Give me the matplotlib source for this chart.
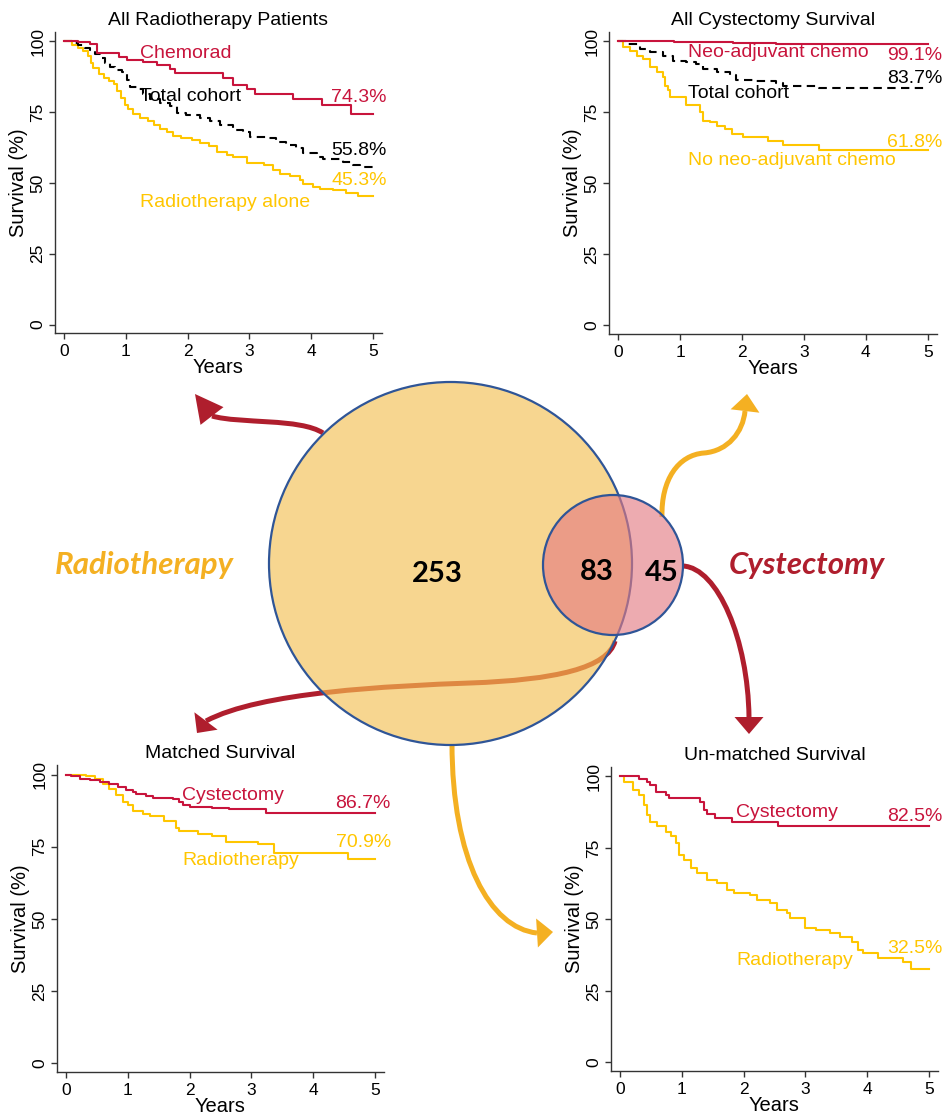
import matplotlib
matplotlib.use("Agg")
import matplotlib.pyplot as plt
from matplotlib.path import Path
from matplotlib.patches import PathPatch, Circle, Polygon
import numpy as np

plt.rcParams["font.family"] = ["Liberation Sans", "DejaVu Sans"]

# ---------------------------------------------------------------- data
YEARS = [0, 1, 2, 3, 4, 5]
SURV_TICKS = [0, 25, 50, 75, 100]

# All radiotherapy patients
rt_chemo_t = [0, 0.23, 0.41, 0.53, 0.88, 1.01, 1.28, 1.50, 1.72, 1.80, 2.58, 2.74,
              2.96, 3.09, 3.71, 4.17, 4.65, 5.0]
rt_chemo_s = [100, 99.8, 99.2, 95.9, 94.5, 93.5, 92.7, 91.5, 90.3, 88.8, 87.2, 84.5,
              83.3, 81.5, 79.6, 77.5, 74.3, 74.3]
rt_total_t = [0, 0.12, 0.23, 0.34, 0.42, 0.50, 0.58, 0.66, 0.74, 0.83, 0.93, 1.01,
              1.07, 1.18, 1.28, 1.39, 1.55, 1.72, 1.82, 1.98, 2.20, 2.36, 2.52, 2.74,
              2.90, 3.01, 3.28, 3.44, 3.60, 3.76, 3.87, 4.09, 4.20, 4.52, 4.68, 4.79, 5.0]
rt_total_s = [100, 99.3, 98.6, 97.8, 96.8, 95.5, 94.0, 92.5, 91.0, 89.8, 89.0, 86.5,
              84.0, 83.0, 81.5, 79.5, 78.3, 77.0, 74.8, 74.0, 73.0, 72.0, 70.5, 68.7,
              68.0, 66.3, 65.7, 64.5, 63.3, 62.5, 60.4, 59.3, 58.3, 57.5, 56.3, 55.8, 55.8]
rt_alone_t = [0, 0.12, 0.23, 0.31, 0.38, 0.43, 0.47, 0.56, 0.64, 0.72, 0.80, 0.85,
              0.92, 0.99, 1.04, 1.12, 1.23, 1.36, 1.45, 1.55, 1.66, 1.77, 1.90, 2.07,
              2.20, 2.34, 2.47, 2.63, 2.74, 2.96, 3.23, 3.39, 3.50, 3.66, 3.82, 3.87,
              4.03, 4.14, 4.36, 4.57, 4.76, 5.0]
rt_alone_s = [100, 98.8, 97.8, 96.5, 95.0, 92.5, 90.5, 88.5, 87.2, 86.0, 84.8, 82.5,
              80.0, 77.5, 76.0, 74.5, 72.8, 71.8, 70.3, 69.0, 68.0, 66.5, 65.8, 65.3,
              64.0, 63.0, 61.0, 60.0, 59.0, 57.0, 56.2, 54.5, 53.0, 52.5, 51.0, 49.5,
              48.5, 48.0, 47.5, 46.3, 45.3, 45.3]

# All cystectomy patients
cy_neo_t = [0, 0.9, 1.85, 2.55, 5.0]
cy_neo_s = [100, 99.7, 99.4, 99.1, 99.1]
cy_total_t = [0, 0.13, 0.35, 0.51, 0.73, 0.89, 1.10, 1.26, 1.37, 1.59, 1.80, 1.91,
              2.18, 2.55, 2.66, 3.25, 5.0]
cy_total_s = [100, 99.1, 97.3, 96.1, 95.0, 93.2, 92.6, 92.0, 90.3, 89.1, 88.0, 86.4,
              85.9, 85.2, 84.4, 83.7, 83.7]
cy_none_t = [0, 0.08, 0.19, 0.30, 0.40, 0.51, 0.62, 0.73, 0.75, 0.81, 0.83, 1.10,
             1.32, 1.37, 1.48, 1.59, 1.72, 1.83, 2.02, 2.42, 2.66, 3.25, 5.0]
cy_none_s = [100, 97.9, 96.7, 95.0, 93.8, 90.9, 89.1, 87.3, 84.4, 82.9, 80.3, 77.6,
             75.0, 72.1, 71.5, 70.3, 69.2, 67.4, 66.2, 65.1, 63.5, 61.8, 61.8]

# Matched survival
m_cys_t = [0, 0.08, 0.22, 0.38, 0.54, 0.70, 0.84, 0.97, 1.08, 1.13, 1.29, 1.40,
           1.73, 1.83, 1.89, 2.00, 2.37, 2.64, 3.24, 5.0]
m_cys_s = [100, 99.4, 98.6, 98.0, 97.4, 96.8, 95.6, 94.5, 93.9, 93.1, 92.5, 91.9,
           91.4, 90.5, 89.3, 88.7, 88.4, 87.9, 86.7, 86.7]
m_rt_t = [0, 0.32, 0.46, 0.59, 0.70, 0.81, 0.92, 1.00, 1.08, 1.24, 1.35, 1.59,
          1.78, 1.83, 2.13, 2.37, 2.59, 3.10, 3.37, 4.56, 5.0]
m_rt_s = [100, 99.5, 98.6, 96.8, 95.1, 92.8, 90.4, 89.3, 87.5, 86.4, 85.5, 84.0,
          81.6, 80.5, 79.3, 78.8, 76.8, 75.8, 72.9, 70.9, 70.9]

# Un-matched survival
u_cys_t = [0, 0.31, 0.44, 0.49, 0.58, 0.74, 0.79, 1.30, 1.35, 1.41, 1.54, 1.81,
           2.56, 5.0]
u_cys_s = [100, 99.2, 98.2, 97.1, 94.5, 93.6, 92.4, 91.2, 88.3, 86.9, 85.4, 84.2,
           82.5, 82.5]
u_rt_t = [0, 0.06, 0.20, 0.31, 0.39, 0.44, 0.49, 0.60, 0.74, 0.82, 0.90, 0.95,
          1.03, 1.14, 1.25, 1.41, 1.57, 1.73, 1.84, 2.11, 2.22, 2.43, 2.54, 2.70,
          2.75, 2.99, 3.18, 3.40, 3.56, 3.75, 3.85, 3.94, 4.18, 4.58, 4.72, 5.0]
u_rt_s = [100, 98.2, 95.3, 93.6, 90.1, 86.6, 84.2, 82.5, 80.7, 79.0, 76.7, 72.6,
          70.8, 67.9, 66.2, 63.8, 62.7, 60.3, 59.2, 58.6, 56.8, 55.7, 53.3, 52.2,
          50.4, 46.9, 46.3, 45.2, 44.0, 42.2, 39.3, 38.2, 36.4, 35.2, 32.5, 32.5]

# Venn counts
n_rt_only = 253
n_both = 83
n_cys_only = 45

# ---------------------------------------------------------------- style
RED = "#C8143C"
GOLD = "#FFC600"
ARROW_RED = "#AF1E2D"
ARROW_GOLD = "#F4B022"
BRIDGE = "#DE8842"
EDGE = "#2F5597"
AXC = "#333333"

W, H = 949, 1120
fig = plt.figure(figsize=(W / 100, H / 100), dpi=100)

# ---------------------------------------------------------------- diagram layer
canvas = fig.add_axes([0, 0, 1, 1])
canvas.set_xlim(0, W)
canvas.set_ylim(H, 0)
canvas.axis("off")


def bezier_path(points):
    codes = [Path.MOVETO] + [Path.CURVE4] * (len(points) - 1)
    return Path(points, codes)


def arrow(points, tip, color, z=1, lw=3.6, half_w=14.5):
    canvas.add_patch(PathPatch(bezier_path(points), fc="none", ec=color, lw=lw,
                               capstyle="butt", zorder=z))
    base = np.array(points[-1], float)
    tip = np.array(tip, float)
    d = tip - base
    d /= np.hypot(*d)
    n = np.array([-d[1], d[0]])
    canvas.add_patch(Polygon([tip, base + half_w * n, base - half_w * n],
                             closed=True, fc=color, ec="none", zorder=z))


big_c, big_r = (450.5, 563.5), 181.5
small_c, small_r = (613, 565), 70

# bridge from overlap to matched panel: red outside, orange inside the big set
bridge_pts = [(615, 641), (608, 668), (555, 680), (470, 683),
              (390, 686), (260, 692), (206, 721)]
arrow(bridge_pts, (197, 733), ARROW_RED, z=0.5)

arrow([(323, 433), (300, 418), (240, 424), (212, 416)], (195, 394), ARROW_RED, z=0.5)
arrow([(662, 517), (661, 480), (678, 455), (704, 453),
       (728, 451), (743, 432), (745, 411)], (747, 394), ARROW_GOLD, z=0.5)
arrow([(683, 566), (718, 568), (748, 640), (749, 717)], (749, 734), ARROW_RED, z=0.5)
arrow([(452, 743), (452, 860), (490, 928), (537, 933)], (553, 932), ARROW_GOLD, z=0.5)

big_fill = Circle(big_c, big_r, fc="#F7D690", ec="none", zorder=1)
canvas.add_patch(big_fill)
inner = PathPatch(bezier_path(bridge_pts), fc="none", ec=BRIDGE, lw=3.6,
                  capstyle="butt", zorder=2)
canvas.add_patch(inner)
inner.set_clip_path(big_fill)
canvas.add_patch(Circle(big_c, big_r, fc="none", ec=EDGE, lw=1.6, zorder=3))
canvas.add_patch(Circle(small_c, small_r, fc=(228 / 255, 123 / 255, 131 / 255, 0.63),
                        ec="none", zorder=4))
canvas.add_patch(Circle(small_c, small_r, fc="none", ec=EDGE, lw=1.6, zorder=5))

venn_font = dict(family=["Lato", "DejaVu Sans"], fontweight="bold")
canvas.text(437, 574, str(n_rt_only), ha="center", va="center", fontsize=21,
            color="black", zorder=6, **venn_font)
canvas.text(597, 572, str(n_both), ha="center", va="center", fontsize=21,
            color="black", zorder=6, **venn_font)
canvas.text(662, 573, str(n_cys_only), ha="center", va="center", fontsize=21,
            color="black", zorder=6, **venn_font)
canvas.text(144, 565, "Radiotherapy", ha="center", va="center", fontsize=22.5,
            style="italic", color=ARROW_GOLD, zorder=6, **venn_font)
canvas.text(807, 565, "Cystectomy", ha="center", va="center", fontsize=22.5,
            style="italic", color=ARROW_RED, zorder=6, **venn_font)

# ---------------------------------------------------------------- survival panels


def panel(rect, title):
    l, t, r, b = rect
    ax = fig.add_axes([l / W, 1 - b / H, (r - l) / W, (b - t) / H])
    ax.set_facecolor("none")
    ax.set_xlim(-0.15, 5.15)
    ax.set_ylim(-3, 103.3)
    for sp in ("top", "right"):
        ax.spines[sp].set_visible(False)
    for sp in ("left", "bottom"):
        ax.spines[sp].set_color(AXC)
        ax.spines[sp].set_linewidth(1.0)
    ax.set_xticks(YEARS)
    ax.set_yticks(SURV_TICKS)
    ax.tick_params(direction="out", length=4, width=1, colors=AXC,
                   labelcolor="black", labelsize=12.5, pad=3)
    ax.tick_params(axis="x", pad=4)
    ax.tick_params(axis="y", labelrotation=90)
    plt.setp(ax.get_yticklabels(), va="center")
    ax.set_xlabel("Years", fontsize=14.5, labelpad=-1)
    ax.set_ylabel("Survival (%)", fontsize=14.5, labelpad=1.5)
    ax.set_title(title, fontsize=14, pad=5)
    return ax


def km(ax, t, s, color, dashed=False):
    ax.step(t, s, where="post", color=color, lw=1.5,
            ls=(0, (4, 2.6)) if dashed else "-")


def label(ax, x, y, txt, color, ha="left"):
    ax.text(x, y, txt, color=color, fontsize=14, ha=ha, va="center", clip_on=False)


ax1 = panel((55, 32, 382, 333), "All Radiotherapy Patients")
km(ax1, rt_alone_t, rt_alone_s, GOLD)
km(ax1, rt_total_t, rt_total_s, "black", dashed=True)
km(ax1, rt_chemo_t, rt_chemo_s, RED)
label(ax1, 1.23, 95.8, "Chemorad", RED)
label(ax1, 1.23, 80.6, "Total cohort", "black")
label(ax1, 5.23, 80.3, f"{rt_chemo_s[-1]:.1f}%", RED, "right")
label(ax1, 5.23, 61.3, f"{rt_total_s[-1]:.1f}%", "black", "right")
label(ax1, 5.23, 50.7, f"{rt_alone_s[-1]:.1f}%", GOLD, "right")
label(ax1, 1.23, 43.0, "Radiotherapy alone", GOLD)

ax2 = panel((609, 32, 937, 334), "All Cystectomy Survival")
km(ax2, cy_none_t, cy_none_s, GOLD)
km(ax2, cy_total_t, cy_total_s, "black", dashed=True)
km(ax2, cy_neo_t, cy_neo_s, RED)
label(ax2, 1.13, 96.1, "Neo-adjuvant chemo", RED)
label(ax2, 5.24, 95.1, f"{cy_neo_s[-1]:.1f}%", RED, "right")
label(ax2, 5.24, 87.0, f"{cy_total_s[-1]:.1f}%", "black", "right")
label(ax2, 1.13, 81.7, "Total cohort", "black")
label(ax2, 5.24, 64.4, f"{cy_none_s[-1]:.1f}%", GOLD, "right")
label(ax2, 1.13, 58.1, "No neo-adjuvant chemo", GOLD)

ax3 = panel((57, 765, 384, 1072), "Matched Survival")
km(ax3, m_rt_t, m_rt_s, GOLD)
km(ax3, m_cys_t, m_cys_s, RED)
label(ax3, 1.88, 92.9, "Cystectomy", RED)
label(ax3, 5.26, 90.1, f"{m_cys_s[-1]:.1f}%", RED, "right")
label(ax3, 5.26, 76.4, f"{m_rt_s[-1]:.1f}%", GOLD, "right")
label(ax3, 1.88, 70.1, "Radiotherapy", GOLD)

ax4 = panel((611, 767, 938, 1071), "Un-matched Survival")
km(ax4, u_rt_t, u_rt_s, GOLD)
km(ax4, u_cys_t, u_cys_s, RED)
label(ax4, 1.88, 87.3, "Cystectomy", RED)
label(ax4, 5.22, 85.9, f"{u_cys_s[-1]:.1f}%", RED, "right")
label(ax4, 5.22, 39.7, f"{u_rt_s[-1]:.1f}%", GOLD, "right")
label(ax4, 1.88, 35.8, "Radiotherapy", GOLD)

fig.savefig("out.png", dpi=100, facecolor="white")
